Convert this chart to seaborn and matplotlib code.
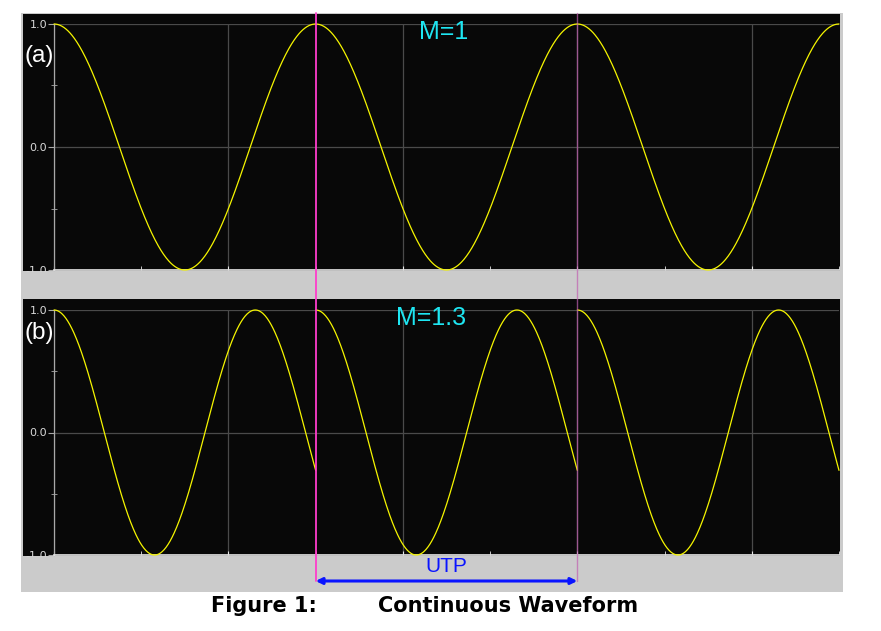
import numpy as np
import pandas as pd
import seaborn as sns
import matplotlib.pyplot as plt
from matplotlib.patches import Rectangle, FancyArrowPatch
from matplotlib.lines import Line2D
from matplotlib.transforms import blended_transform_factory

# values
panel_tags = ["(a)", "(b)"]
m_values = [1.0, 1.3]
m_labels = ["M=1", "M=1.3"]
utp = 3.0          # one UTP = one period of the M=1 wave (x units)
n_utp = 3          # three UTPs across the plot
y_ticks = [-1.0, 0.0, 1.0]
y_tick_labels = ["-1.0", "0.0", "1.0"]
y_minor = [-0.5, 0.5]
span_label = "UTP"
caption_num = "Figure 1:"
caption_title = "Continuous Waveform"

# waveform restarts at the start of every UTP: cos(2*pi*M*t/UTP)
rows = []
for p, m in enumerate(m_values):
    for seg in range(n_utp):
        t_loc = np.linspace(0, utp, 400)
        y = np.cos(2 * np.pi * m * t_loc / utp)
        rows.append(pd.DataFrame({"panel": p, "seg": seg, "t": seg * utp + t_loc, "y": y}))
df = pd.concat(rows, ignore_index=True)

sns.set_style("ticks")

W, H = 881, 631
fig = plt.figure(figsize=(W / 100, H / 100), dpi=100)
fig.patch.set_facecolor("white")


def px_rect(x0, y0, x1, y1, color, z):
    fig.add_artist(Rectangle((x0 / W, 1 - y1 / H), (x1 - x0) / W, (y1 - y0) / H,
                             transform=fig.transFigure, facecolor=color,
                             edgecolor="none", zorder=z))


gray = "#cbcbcb"
px_rect(21, 13, 843, 592, gray, -3)
px_rect(23, 14, 840, 271, "#080808", -2)
px_rect(23, 299, 840, 556, "#080808", -2)

ax_top = fig.add_axes([54 / W, 1 - 270 / H, 785 / W, 246 / H])
ax_bot = fig.add_axes([54 / W, 1 - 555 / H, 785 / W, 245 / H])
axes = [ax_top, ax_bot]

x_end = n_utp * utp
for p, ax in enumerate(axes):
    ax.set_facecolor("none")
    sns.lineplot(data=df[df["panel"] == p], x="t", y="y", units="seg",
                 estimator=None, color="#f5f500", lw=0.9, ax=ax,
                 legend=False, clip_on=False, zorder=3)
    ax.set_xlim(0, x_end)
    ax.set_ylim(-1, 1)
    ax.set_xlabel("")
    ax.set_ylabel("")
    ax.set_yticks(y_ticks, y_tick_labels)
    ax.set_yticks(y_minor, minor=True)
    ax.set_xticks(np.arange(0, x_end, 2))
    ax.set_xticks(np.arange(1, x_end + 1, 1), minor=True)
    ax.grid(True, which="major", color="#4a4a4a", lw=0.9)
    for s in ["top", "right"]:
        ax.spines[s].set_visible(False)
    ax.spines["left"].set_color("#a8a8a8")
    ax.spines["bottom"].set_color("#e6e6e6")
    ax.spines["left"].set_linewidth(0.9)
    ax.spines["bottom"].set_linewidth(1.2)
    ax.tick_params(axis="y", which="major", direction="out", length=4,
                   color="#a8a8a8", labelcolor="#d8d8d8", labelsize=8, pad=1)
    ax.tick_params(axis="y", which="minor", direction="inout", length=5,
                   color="#a8a8a8")
    ax.tick_params(axis="x", which="both", direction="in", length=3,
                   color="#e6e6e6", labelbottom=False)
    ax.set_axisbelow(True)

# gray bands under each panel (cover half of the -1.0 labels)
px_rect(23, 272, 840, 299, gray, 1)
px_rect(23, 557, 840, 592, gray, 1)

# panel tags and M labels
tag_y = [56, 333]
m_pos = [(444, 32), (431, 318)]
for p in range(2):
    fig.text(24 / W, 1 - tag_y[p] / H, panel_tags[p], color="white",
             fontsize=17.5, family="Liberation Sans", va="center", ha="left")
    fig.text(m_pos[p][0] / W, 1 - m_pos[p][1] / H, m_labels[p], color="#1ee6f2",
             fontsize=18, family="Liberation Sans", va="center", ha="center")

# UTP markers and span arrow
trans = blended_transform_factory(ax_top.transData, fig.transFigure)
fig.add_artist(Line2D([utp, utp], [1 - 13 / H, 1 - 581 / H], transform=trans,
                      color="#ff3dcc", lw=1.3, zorder=4))
fig.add_artist(Line2D([2 * utp, 2 * utp], [1 - 13 / H, 1 - 581 / H], transform=trans,
                      color="#c060b0", lw=1.0, alpha=0.7, zorder=4))
fig.add_artist(FancyArrowPatch((utp, 1 - 581 / H), (2 * utp, 1 - 581 / H),
                               transform=trans, arrowstyle="<|-|>",
                               mutation_scale=9, lw=2.2, color="#0a14ff",
                               shrinkA=0, shrinkB=0, zorder=5))
fig.text(1.5 * utp, 1 - 567 / H, span_label, transform=trans, color="#0a14ff",
         fontsize=15, family="Liberation Sans", ha="center", va="center", zorder=5)

# caption
fig.text(211 / W, 1 - 606 / H, caption_num, fontsize=15, fontweight="bold",
         family="DejaVu Sans", color="black", va="center", ha="left")
fig.text(378 / W, 1 - 606 / H, caption_title, fontsize=15, fontweight="bold",
         family="DejaVu Sans", color="black", va="center", ha="left")

fig.savefig("out.png", dpi=100)
